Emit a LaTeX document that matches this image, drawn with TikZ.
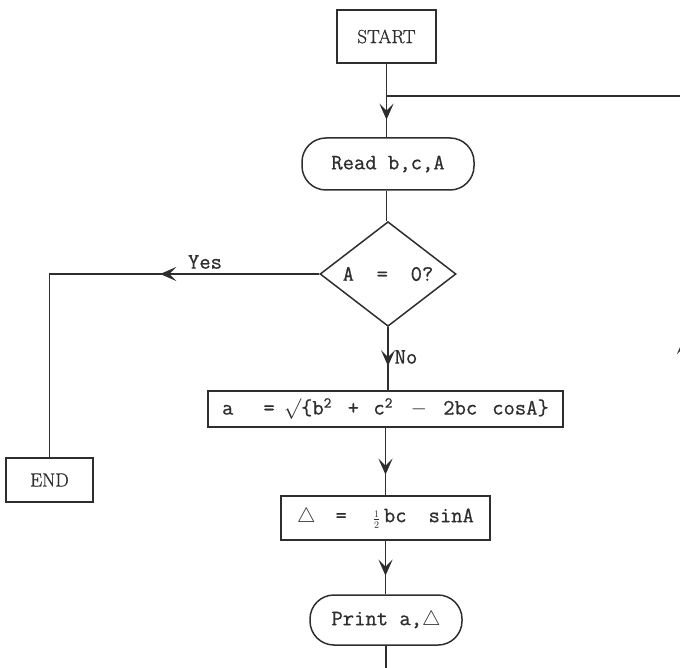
\documentclass[tikz,border=0pt]{standalone}
\usepackage{fontspec}
\usetikzlibrary{arrows.meta,shapes.geometric,decorations.markings}

% typewriter face for the flowchart texts, slightly emboldened
\newfontfamily\typer{Latin Modern Mono}[FakeBold=0.8]
\newfontfamily\termfont{Latin Modern Roman}[FakeBold=0.8]

\definecolor{ink}{HTML}{2E2E2E}

\newcommand{\sqr}{\raisebox{7pt}{\fontsize{15}{15}\selectfont 2}}
\newcommand{\half}{\raisebox{-1pt}{\fontsize{14}{14}\selectfont$\frac{1}{2}$}}

\tikzset{
  barb/.tip={Stealth[length=16pt,width=14pt,inset=7pt]},
  flow/.style={draw=ink, line width=1.5pt},
  arrowat/.style={postaction={decorate,decoration={markings,
      mark=at position #1 with {\arrow[ink]{barb}}}}},
  ttext/.style={text=ink, font=\typer\fontsize{22}{24}\selectfont},
  rmtext/.style={text=ink, font=\termfont\fontsize{19}{22}\selectfont},
  termbox/.style={draw=ink, line width=1.5pt, rectangle, inner sep=0pt, rmtext},
  procbox/.style={draw=ink, line width=1.5pt, rectangle, inner sep=0pt, ttext},
  iobox/.style={draw=ink, line width=1.5pt, rectangle, rounded corners=24pt, inner sep=0pt, ttext},
  testbox/.style={draw=ink, line width=1.5pt, diamond, inner sep=0pt, ttext},
  edgelabel/.style={ttext, inner sep=0pt},
}

\begin{document}
\begin{tikzpicture}[x=1pt,y=-1pt]
  \useasboundingbox (0,0) rectangle (680,668);
  \clip (0,0) rectangle (680,668);

  % blocks of the flowchart
  \node[termbox, minimum width=99pt, minimum height=53pt] (start) at (386.5,36.5) {START};
  \node[iobox, minimum width=172pt, minimum height=52pt] (read) at (388,164) {Read b,c,A};
  \node[testbox, minimum width=136pt, minimum height=76pt] (test) at (388,274) {A\ \ =\ \ 0?};
  \node[procbox, minimum width=355pt, minimum height=36pt] (side) at (385.5,409)
    {a\hspace{30pt}=\hspace{9pt}$\surd$\{b\sqr\hspace{5pt} +\hspace{3pt} c\sqr\hspace{7pt} $-$\hspace{5pt} 2bc\hspace{15pt}cosA\}};
  \node[procbox, minimum width=209pt, minimum height=44pt] (area) at (385.5,518)
    {$\triangle$\hspace{20pt}=\hspace{26pt}\half\,bc\hspace{22pt}sinA};
  \node[iobox, minimum width=152pt, minimum height=50pt] (print) at (386,620) {Print a,$\triangle$};
  \node[termbox, minimum width=87pt, minimum height=44pt] (stop) at (49.5,480) {END};

  % free ends and the junction of the return loop
  \coordinate (join) at (386,96);
  \coordinate (loopTop) at (684,96);
  \coordinate (loopBottom) at (684,668);
  \coordinate (down) at (386,668);

  % main flow
  \draw[flow, arrowat=56pt] (start.south) -- (start.south |- read.north);
  \draw[flow] (read.south -| start.south) -- (test.north -| start.south);
  \draw[flow, arrowat=39pt] (test.south) -- (test.south |- side.north);
  \draw[flow, arrowat=47pt] (side.south) -- (side.south |- area.north);
  \draw[flow, arrowat=35pt] (area.south) -- (area.south |- print.north);
  \draw[flow] (print.south) -- (down);

  % exit branch
  \draw[flow, arrowat=159pt] (test.west) -- (test.west -| stop.north) -- (stop.north);

  % return loop
  \draw[flow] (join) -- (loopTop);
  \draw[flow, arrowat=330pt] (loopBottom) -- (loopTop);

  % branch labels
  \node[edgelabel] (yes) at (205,262) {Yes};
  \node[edgelabel] (no) at (406,357) {No};
\end{tikzpicture}
\end{document}
